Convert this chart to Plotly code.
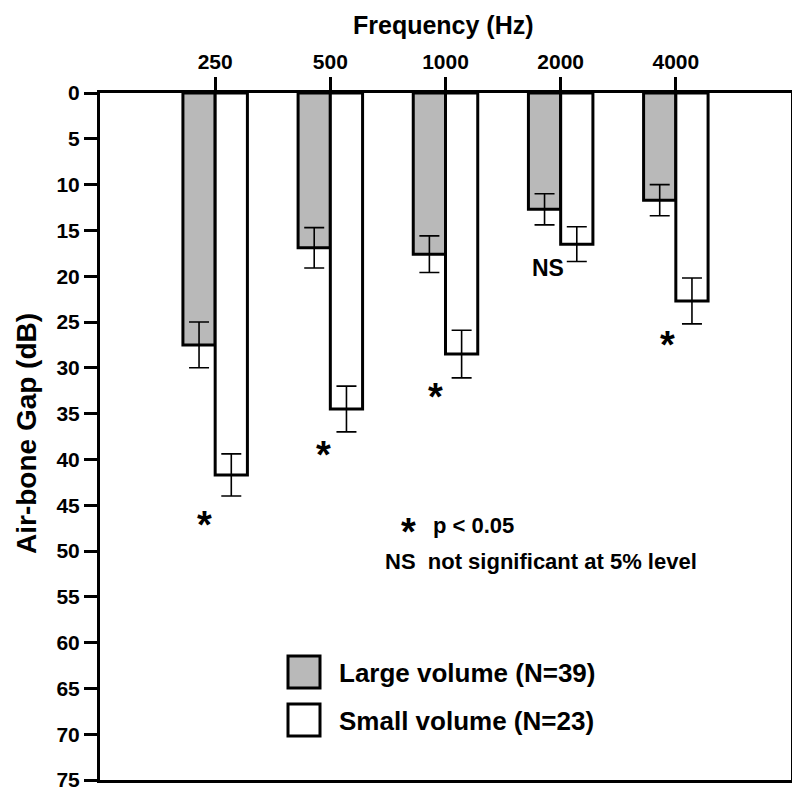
import plotly.graph_objects as go

frequencies = ["250", "500", "1000", "2000", "4000"]
large_mean = [27.5, 16.9, 17.6, 12.7, 11.7]
large_err = [2.5, 2.2, 2.0, 1.7, 1.7]
small_mean = [41.7, 34.5, 28.5, 16.5, 22.7]
small_err = [2.3, 2.5, 2.6, 1.9, 2.5]
sig_labels = ["*", "*", "*", "NS", "*"]
sig_x = [-0.09, 0.94, 1.91, 2.89, 3.93]
sig_y = [46.6, 38.9, 32.6, 19.1, 26.9]
y_ticks = list(range(0, 80, 5))

xpos = list(range(len(frequencies)))
FONT = "Liberation Sans, Arial, sans-serif"
BW = 0.28

# page body has an 8px margin; figure is placed at (8, 8)
OFF = 8
W = H = 784
SX0, SX1 = 100, 791   # plot area in screen px
SY0, SY1 = 93, 780
L, R = SX0 - OFF, W - (SX1 - OFF)
T, B = SY0 - OFF, H - (SY1 - OFF)
PW, PH = SX1 - SX0, SY1 - SY0

fig = go.Figure()
fig.add_trace(go.Bar(
    x=xpos, y=large_mean, base=0, width=BW, offset=-BW,
    marker=dict(color="#b9b9b9", line=dict(color="black", width=3)),
    error_y=dict(type="data", array=large_err, visible=True, color="black",
                 thickness=1.6, width=10),
    name="Large volume (N=39)", showlegend=False))
fig.add_trace(go.Bar(
    x=xpos, y=small_mean, base=0, width=BW, offset=0,
    marker=dict(color="white", line=dict(color="black", width=3)),
    error_y=dict(type="data", array=small_err, visible=True, color="black",
                 thickness=1.6, width=10),
    name="Small volume (N=23)", showlegend=False))


def px_x(p):
    return (p - SX0) / PW


def px_y(p):
    return 1 - (p - SY0) / PH


def txt(x, y, text, size, xanchor="center", **kw):
    return dict(x=px_x(x), y=px_y(y), xref="paper", yref="paper", text=text,
                showarrow=False, xanchor=xanchor, yanchor="middle",
                font=dict(family=FONT, size=size, color="black"), **kw)


annotations = []
for lbl, sx, sy in zip(sig_labels, sig_x, sig_y):
    if lbl == "*":
        annotations.append(dict(x=sx, y=sy + 0.6, xref="x", yref="y", text="<b>*</b>",
                                showarrow=False, xanchor="center", yanchor="middle",
                                font=dict(family=FONT, size=38, color="black")))
    else:
        annotations.append(dict(x=sx, y=sy, xref="x", yref="y", text="<b>NS</b>",
                                showarrow=False, xanchor="center", yanchor="middle",
                                font=dict(family=FONT, size=23, color="black")))

annotations += [
    txt(408, 532, "<b>*</b>", 38),
    txt(431, 525, "<b>p &lt; 0.05</b>", 22, xanchor="left"),
    txt(383, 561, "<b>NS  not significant at 5% level</b>", 22, xanchor="left"),
    txt(337, 673, "<b>Large volume (N=39)</b>", 26, xanchor="left"),
    txt(337, 721, "<b>Small volume (N=23)</b>", 26, xanchor="left"),
    txt(443, 25, "<b>Frequency (Hz)</b>", 25),
    txt(26, 434, "<b>Air-bone Gap (dB)</b>", 28, textangle=-90),
]

shapes = [
    dict(type="rect", xref="paper", yref="paper", x0=px_x(288), x1=px_x(320),
         y0=px_y(656), y1=px_y(688), fillcolor="#b9b9b9", line=dict(color="black", width=3)),
    dict(type="rect", xref="paper", yref="paper", x0=px_x(288), x1=px_x(320),
         y0=px_y(704), y1=px_y(736), fillcolor="white", line=dict(color="black", width=3)),
]

fig.update_layout(
    width=W, height=H,
    margin=dict(l=L, r=R, t=T, b=B, autoexpand=False),
    paper_bgcolor="white", plot_bgcolor="white",
    barmode="overlay",
    font=dict(family=FONT, color="black"),
    annotations=annotations,
    shapes=shapes,
    xaxis=dict(
        side="top", range=[-1, 5], tickvals=xpos,
        ticktext=["<b>%s</b>" % f for f in frequencies],
        tickfont=dict(family=FONT, size=21, color="black"),
        ticks="outside", ticklen=13, tickwidth=2.5, tickcolor="black",
        showline=True, linewidth=3, linecolor="black", mirror=True,
        showgrid=False, zeroline=False, automargin=False,
    ),
    yaxis=dict(
        range=[75, 0], tickvals=y_ticks,
        ticktext=["<b>%d</b>" % t for t in y_ticks],
        tickfont=dict(family=FONT, size=21, color="black"),
        ticks="outside", ticklen=13, tickwidth=2.5, tickcolor="black",
        showline=True, linewidth=3, linecolor="black", mirror=True,
        showgrid=False, zeroline=False, automargin=False,
    ),
)

fig.write_html("out.html")
